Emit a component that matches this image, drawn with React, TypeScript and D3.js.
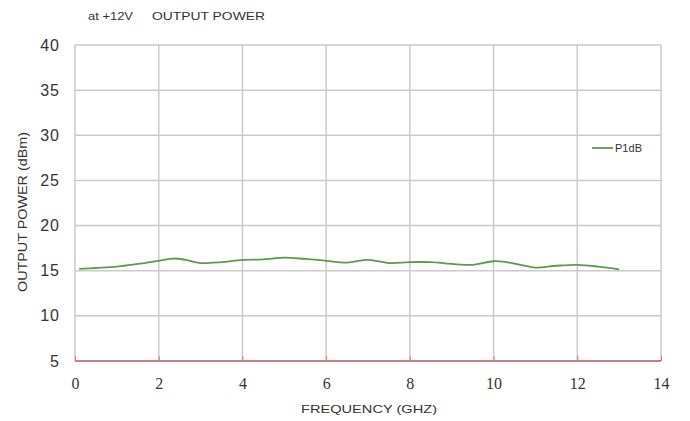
import React, { useEffect, useRef } from 'react'
import * as d3 from 'd3'

const freqGHz = [0.1, 0.5, 1, 1.5, 2, 2.35, 2.7, 3, 3.5, 4, 4.5, 5, 5.5, 6, 6.5, 7, 7.5, 8, 8.5, 9, 9.5, 10, 10.3, 10.7, 11, 11.5, 12, 12.5, 13]
const p1dB = [15.2, 15.3, 15.45, 15.75, 16.1, 16.35, 16.15, 15.85, 15.95, 16.2, 16.25, 16.45, 16.3, 16.1, 15.9, 16.2, 15.85, 15.95, 15.95, 15.75, 15.65, 16.05, 15.95, 15.6, 15.35, 15.55, 15.65, 15.45, 15.15]
const xTicks = [0, 2, 4, 6, 8, 10, 12, 14]
const yTicks = [5, 10, 15, 20, 25, 30, 35, 40]

const sans = '"Liberation Sans", Arial, sans-serif'

export default function App() {
  const ref = useRef<SVGSVGElement | null>(null)

  useEffect(() => {
    const svg = d3.select(ref.current)
    svg.selectAll('*').remove()
    const left = 75, right = 661, top = 45, bottom = 361

    const x = d3.scaleLinear().domain([0, 14]).range([left, right])
    const y = d3.scaleLinear().domain([5, 40]).range([bottom, top])

    svg.append('rect').attr('width', 690).attr('height', 421).attr('fill', '#fff')

    // grid
    const grid = svg.append('g').attr('stroke', '#c9c9c9').attr('stroke-width', 1.5)
    grid.selectAll('line.v').data(xTicks).enter().append('line')
      .attr('x1', d => x(d)).attr('x2', d => x(d)).attr('y1', top).attr('y2', bottom)
    grid.selectAll('line.h').data(yTicks.filter(d => d > 5)).enter().append('line')
      .attr('x1', left).attr('x2', right).attr('y1', d => y(d)).attr('y2', d => y(d))

    // bottom axis in red
    const xAxis = svg.append('g').attr('transform', `translate(0,${bottom})`)
      .call(d3.axisBottom(x).tickValues(xTicks).tickSize(-5).tickFormat(() => ''))
    xAxis.select('.domain').attr('stroke', '#c0504d').attr('stroke-width', 1.5).attr('d', `M${left},0H${right}`)
    xAxis.selectAll('.tick line').attr('stroke', '#d87a78')

    xAxis.selectAll('.tick').append('text')
      .attr('y', 28).attr('text-anchor', 'middle')
      .attr('font-family', '"Liberation Serif", "DejaVu Serif", serif')
      .attr('font-size', 16).attr('fill', '#333')
      .text((d: any) => d)

    const yAxis = svg.append('g').attr('transform', `translate(${left},0)`)
      .call(d3.axisLeft(y).tickValues(yTicks).tickSize(0).tickPadding(15))
    yAxis.select('.domain').remove()
    yAxis.selectAll('text')
      .attr('font-family', sans)
      .attr('font-size', 16).attr('letter-spacing', 1).attr('fill', '#333')

    // series
    const line = d3.line<number>()
      .x((d, i) => x(freqGHz[i]))
      .y(d => y(d))
      .curve(d3.curveCatmullRom)
    svg.append('path').datum(p1dB)
      .attr('fill', 'none').attr('stroke', '#5b9a4f').attr('stroke-width', 1.8)
      .attr('d', line)

    // legend
    svg.append('line').attr('x1', 592).attr('x2', 613).attr('y1', 148).attr('y2', 148)
      .attr('stroke', '#5b9a4f').attr('stroke-width', 1.8)
    svg.append('text').attr('x', 615).attr('y', 152)
      .attr('font-family', sans).attr('font-size', 11).attr('fill', '#333')
      .attr('textLength', 27).attr('lengthAdjust', 'spacingAndGlyphs')
      .text('P1dB')

    // titles
    svg.append('text').attr('x', 88).attr('y', 20)
      .attr('font-family', sans).attr('font-size', 11).attr('fill', '#333')
      .attr('textLength', 45).attr('lengthAdjust', 'spacingAndGlyphs')
      .text('at +12V')
    svg.append('text').attr('x', 152).attr('y', 20)
      .attr('font-family', sans).attr('font-size', 11).attr('fill', '#333')
      .attr('textLength', 113).attr('lengthAdjust', 'spacingAndGlyphs')
      .text('OUTPUT POWER')
    svg.append('text').attr('x', 301).attr('y', 413)
      .attr('font-family', sans).attr('font-size', 11).attr('fill', '#333')
      .attr('textLength', 136).attr('lengthAdjust', 'spacingAndGlyphs')
      .text('FREQUENCY (GHZ)')
    svg.append('text').attr('transform', `translate(27,292) rotate(-90)`)
      .attr('font-family', sans).attr('font-size', 13).attr('fill', '#333')
      .attr('textLength', 160).attr('lengthAdjust', 'spacingAndGlyphs')
      .text('OUTPUT POWER (dBm)')
  }, [])

  return <svg ref={ref} width={690} height={421} style={{ position: 'absolute', left: 0, top: 0, display: 'block' }} />
}
